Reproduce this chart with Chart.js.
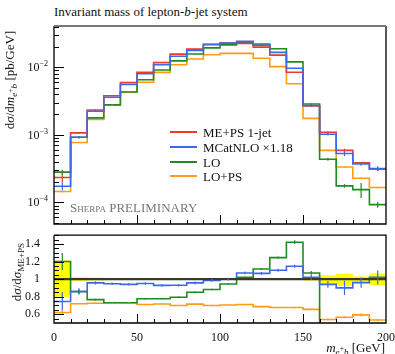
<!DOCTYPE html>
<html>
<head>
<meta charset="utf-8">
<script src="https://cdn.jsdelivr.net/npm/chart.js@4.4.1/dist/chart.umd.min.js"></script>
<style>
  body { margin: 0; background: #fff; }
  #wrap { position: relative; width: 395px; height: 354px; font-family: 'Liberation Serif', serif; color: #111; overflow: hidden; }
  canvas { position: absolute; left: 0; }
  .txt { position: absolute; white-space: nowrap; font-size: 13px; line-height: 1; }
  .rot { transform: translate(-50%, -50%) rotate(-90deg); }
  .legend-row { position: absolute; left: 170px; height: 14px; }
  .legend-row span.sw { position: absolute; left: 0; top: 6px; width: 27px; height: 2px; }
  .legend-row span.lb { position: absolute; left: 33px; top: 0; font-size: 13px; white-space: nowrap; }
  sub { font-size: 70%; vertical-align: -0.3em; }
  sub sup { font-size: 85%; vertical-align: 0.5em; }
</style>
</head>
<body>
<div id="wrap">
  <div class="txt" style="left:54px; top:5px;">Invariant mass of lepton-<i>b</i>-jet system</div>
  <canvas id="mainChart" width="395" height="226" style="top:0"></canvas>
  <canvas id="ratioChart" width="395" height="132" style="top:222px"></canvas>
  <div class="txt rot" style="left:11px; top:80px;">d<i>σ</i>/d<i>m</i><sub><i>e</i><sup>+</sup><i>b</i></sub> [pb/GeV]</div>
  <div class="txt rot" style="left:18px; top:272px;">d<i>σ</i>/d<i>σ</i><sub>ME+PS</sub></div>
  <div class="txt" style="right:10px; top:341px;"><i>m</i><sub><i>e</i><sup>+</sup><i>b</i></sub> [GeV]</div>
  <div class="txt" style="left:70px; top:201px; color:#777;"><span style="font-variant:small-caps">Sherpa</span> PRELIMINARY</div>
  <div id="legend"></div>
</div>
<script>
const binEdges = [0, 10, 20, 30, 40, 50, 60, 70, 80, 90, 100, 110, 120, 130, 140, 150, 160, 170, 180, 190, 200];

// d sigma / d m  [pb/GeV]
const mepsXsec    = [2.34e-4, 1.07e-3, 2.33e-3, 3.79e-3, 5.91e-3, 8.43e-3, 1.17e-2, 1.56e-2, 1.85e-2, 2.19e-2,
                     2.27e-2, 2.25e-2, 1.98e-2, 1.51e-2, 8.43e-3, 2.67e-3, 1.09e-3, 5.9e-4, 3.85e-4, 3.11e-4];
const mcatnloXsec = [1.74e-4, 9.2e-4, 2.23e-3, 3.59e-3, 5.56e-3, 8.0e-3, 1.086e-2, 1.45e-2, 1.77e-2, 2.16e-2,
                     2.27e-2, 2.41e-2, 2.11e-2, 1.66e-2, 9.66e-3, 2.72e-3, 1.02e-3, 5.3e-4, 3.7e-4, 3.17e-4];
const loXsec      = [2.81e-4, 9.2e-4, 1.78e-3, 2.77e-3, 4.31e-3, 6.54e-3, 9.08e-3, 1.24e-2, 1.57e-2, 1.93e-2,
                     2.14e-2, 2.30e-2, 2.21e-2, 1.88e-2, 1.20e-2, 2.86e-3, 4.35e-4, 1.76e-4, 1.55e-4, 9.3e-5];
const lopsXsec    = [1.45e-4, 7.7e-4, 1.69e-3, 2.77e-3, 4.31e-3, 5.99e-3, 8.39e-3, 1.09e-2, 1.32e-2, 1.53e-2,
                     1.60e-2, 1.60e-2, 1.36e-2, 1.02e-2, 5.7e-3, 1.75e-3, 5.9e-4, 3.34e-4, 2.28e-4, 1.66e-4];

// ratios to ME+PS
const mepsRatio    = [1, 1, 1, 1, 1, 1, 1, 1, 1, 1, 1, 1, 1, 1, 1, 1, 1, 1, 1, 1];
const mcatnloRatio = [0.745, 0.86, 0.957, 0.947, 0.94, 0.95, 0.928, 0.93, 0.957, 0.985,
                      1.0, 1.07, 1.065, 1.10, 1.146, 1.02, 0.94, 0.90, 0.96, 1.02];
const loRatio      = [1.20, 0.856, 0.766, 0.73, 0.73, 0.776, 0.776, 0.793, 0.85, 0.882,
                      0.944, 1.02, 1.115, 1.245, 1.42, 1.07, 0.40, 0.30, 0.40, 0.30];
const lopsRatio    = [0.62, 0.72, 0.725, 0.73, 0.73, 0.71, 0.717, 0.70, 0.715, 0.70,
                      0.705, 0.71, 0.687, 0.676, 0.676, 0.655, 0.54, 0.566, 0.592, 0.535];
const mepsBandLow  = [0.80, 0.98, 0.985, 0.99, 0.99, 0.99, 0.99, 0.99, 0.99, 0.99,
                      0.99, 0.99, 0.99, 0.99, 0.99, 0.985, 0.94, 0.925, 0.96, 0.93];
const mepsBandHigh = [1.21, 1.02, 1.015, 1.01, 1.01, 1.01, 1.01, 1.01, 1.01, 1.01,
                      1.01, 1.01, 1.01, 1.01, 1.01, 1.015, 1.045, 1.06, 1.03, 1.065];

// relative statistical errors
const mepsErr    = [0.15, 0.03, 0.02, 0.01, 0.01, 0.01, 0.01, 0.01, 0.01, 0.01, 0.01, 0.01, 0.01, 0.01, 0.01, 0.02, 0.04, 0.06, 0.03, 0.06];
const mcatnloErr = [0.14, 0.04, 0.02, 0.015, 0.015, 0.015, 0.015, 0.015, 0.015, 0.015, 0.015, 0.015, 0.015, 0.015, 0.015, 0.03, 0.04, 0.09, 0.06, 0.08];
const loErr      = [0.08, 0.03, 0.015, 0.01, 0.01, 0.01, 0.01, 0.01, 0.01, 0.01, 0.01, 0.01, 0.01, 0.01, 0.015, 0.02, 0.05, 0.06, 0.25, 0.1];
const lopsErr    = [0.03, 0.01, 0.01, 0.01, 0.01, 0.01, 0.01, 0.01, 0.01, 0.01, 0.01, 0.01, 0.01, 0.01, 0.01, 0.01, 0.02, 0.02, 0.03, 0.03];

const seriesNames = ['ME+PS 1-jet', 'MCatNLO \u00d71.18', 'LO', 'LO+PS'];
const seriesColors = ['#ee3a2a', '#3c68f0', '#1f8c1f', '#ff9c10'];
const decadeTicks = [1e-4, 1e-3, 1e-2];
const ratioTicks = [0.6, 0.8, 1, 1.2, 1.4];

const serif = "'Liberation Serif', serif";

function steps(vals) {
  const pts = vals.map((v, i) => ({ x: binEdges[i], y: v }));
  pts.push({ x: binEdges[binEdges.length - 1], y: vals[vals.length - 1] });
  return pts;
}

function lineSet(label, vals, color, errs) {
  return {
    label,
    data: steps(vals),
    errs,
    vals,
    borderColor: color,
    backgroundColor: color,
    borderWidth: 1.6,
    stepped: true,
    pointRadius: 0,
    fill: false
  };
}

// small vertical error bars at bin centres
const errorBars = {
  id: 'errorBars',
  afterDatasetsDraw(chart) {
    const { ctx, chartArea: a, scales: { x, y } } = chart;
    ctx.save();
    ctx.beginPath();
    ctx.rect(a.left, a.top, a.right - a.left, a.bottom - a.top);
    ctx.clip();
    chart.data.datasets.forEach(ds => {
      if (!ds.errs) return;
      ctx.strokeStyle = ds.borderColor;
      ctx.lineWidth = 1.2;
      ds.vals.forEach((v, i) => {
        const px = x.getPixelForValue((binEdges[i] + binEdges[i + 1]) / 2);
        const e = v * ds.errs[i];
        ctx.beginPath();
        ctx.moveTo(px, y.getPixelForValue(v - e));
        ctx.lineTo(px, y.getPixelForValue(v + e));
        ctx.stroke();
      });
    });
    ctx.restore();
  }
};

// frame + inward ticks like the original plot
const hepFrame = {
  id: 'hepFrame',
  afterDraw(chart, args, opts) {
    const { ctx, chartArea: a, scales: { x, y } } = chart;
    ctx.save();
    ctx.strokeStyle = '#000';
    ctx.lineWidth = 1;
    const hTick = (v, len) => {
      const py = Math.round(y.getPixelForValue(v)) + 0.5;
      if (py < a.top || py > a.bottom) return;
      ctx.beginPath(); ctx.moveTo(a.left, py); ctx.lineTo(a.left + len, py); ctx.stroke();
    };
    const vTick = (v, len) => {
      const px = Math.round(x.getPixelForValue(v)) + 0.5;
      ctx.beginPath(); ctx.moveTo(px, a.bottom); ctx.lineTo(px, a.bottom - len); ctx.stroke();
    };
    if (opts.log) {
      for (let d = -5; d <= -1; d++) {
        for (let m = 1; m <= 9; m++) hTick(m * Math.pow(10, d), m === 1 ? 10 : 5);
      }
    } else {
      for (let k = 10; k <= 30; k++) {
        const v = k * 0.05;
        hTick(v, k % 4 === 0 ? 10 : 5);
      }
    }
    for (let v = 10; v < 200; v += 10) vTick(v, v % 50 === 0 ? 9 : 4);

    // frame
    ctx.lineWidth = 1.3;
    ctx.beginPath();
    ctx.moveTo(a.left, a.top); ctx.lineTo(a.left, a.bottom); ctx.lineTo(a.right, a.bottom); ctx.lineTo(a.right, a.top);
    if (!opts.log) ctx.lineTo(a.left, a.top);
    ctx.stroke();
    if (opts.log) {
      ctx.strokeStyle = '#777';
      ctx.lineWidth = 2;
      ctx.beginPath(); ctx.moveTo(a.left, a.top); ctx.lineTo(a.right, a.top); ctx.stroke();

      // decade labels 10^n
      ctx.fillStyle = '#111';
      ctx.textBaseline = 'alphabetic';
      decadeTicks.forEach(v => {
        const py = y.getPixelForValue(v);
        const exp = '\u2212' + Math.round(-Math.log10(v));
        ctx.font = '12px ' + serif;
        const wBase = ctx.measureText('10').width;
        ctx.font = '8px ' + serif;
        const wExp = ctx.measureText(exp).width;
        const right = a.left - 6;
        ctx.fillText(exp, right - wExp, py - 1);
        ctx.font = '12px ' + serif;
        ctx.fillText('10', right - wExp - wBase, py + 4);
      });
    }
    ctx.restore();
  }
};

new Chart(document.getElementById('mainChart'), {
  type: 'line',
  data: {
    datasets: [
      Object.assign(lineSet(seriesNames[0], mepsXsec, seriesColors[0], mepsErr), { order: 2 }),
      Object.assign(lineSet(seriesNames[1], mcatnloXsec, seriesColors[1], mcatnloErr), { order: 1 }),
      Object.assign(lineSet(seriesNames[2], loXsec, seriesColors[2], loErr), { order: 3 }),
      Object.assign(lineSet(seriesNames[3], lopsXsec, seriesColors[3], lopsErr), { order: 4 })
    ]
  },
  options: {
    responsive: false,
    animation: false,
    layout: { padding: { top: 26, right: 9, bottom: 2, left: 0 } },
    plugins: { legend: { display: false }, tooltip: { enabled: false }, hepFrame: { log: true } },
    scales: {
      x: { type: 'linear', min: 0, max: 200, display: false },
      y: {
        type: 'logarithmic',
        min: 4.8e-5,
        max: 0.0407,
        ticks: { display: false },
        grid: { display: false },
        border: { display: false },
        afterFit: s => { s.width = 54; }
      }
    }
  },
  plugins: [errorBars, hepFrame]
});

const bandSets = [
  { label: 'band low', data: steps(mepsBandLow), stepped: true, borderWidth: 0, pointRadius: 0, fill: false, borderColor: 'rgba(0,0,0,0)' },
  { label: 'band high', data: steps(mepsBandHigh), stepped: true, borderWidth: 0, pointRadius: 0, fill: '-1', backgroundColor: '#ffff00', borderColor: 'rgba(0,0,0,0)' }
];

new Chart(document.getElementById('ratioChart'), {
  type: 'line',
  data: {
    datasets: [
      Object.assign(lineSet(seriesNames[0], mepsRatio, '#3a3a22'), { borderWidth: 2.2, order: 1 }),
      Object.assign(lineSet(seriesNames[1], mcatnloRatio, seriesColors[1], mcatnloErr), { order: 2 }),
      Object.assign(lineSet(seriesNames[2], loRatio, seriesColors[2], loErr), { order: 3 }),
      Object.assign(lineSet(seriesNames[3], lopsRatio, seriesColors[3], lopsErr), { order: 4 }),
      Object.assign(bandSets[0], { order: 10 }),
      Object.assign(bandSets[1], { order: 9 })
    ]
  },
  options: {
    responsive: false,
    animation: false,
    layout: { padding: { top: 2, right: 9, bottom: 0, left: 0 } },
    plugins: { legend: { display: false }, tooltip: { enabled: false }, filler: { propagate: false }, hepFrame: { log: false } },
    scales: {
      x: {
        type: 'linear', min: 0, max: 200,
        ticks: { stepSize: 50, color: '#111', font: { family: serif, size: 12 }, padding: 0 },
        grid: { display: false },
        border: { display: false },
        afterFit: s => { s.height = 31; }
      },
      y: {
        min: 0.5, max: 1.5,
        afterBuildTicks: s => { s.ticks = ratioTicks.map(v => ({ value: v })); },
        ticks: { color: '#111', font: { family: serif, size: 12 }, padding: 6, callback: v => String(v) },
        grid: { display: false },
        border: { display: false },
        afterFit: s => { s.width = 54; }
      }
    }
  },
  plugins: [errorBars, hepFrame]
});

// legend inside the upper panel
const legendTops = [125, 140, 155, 169];
const legend = document.getElementById('legend');
seriesNames.forEach((name, i) => {
  const row = document.createElement('div');
  row.className = 'legend-row';
  row.style.top = legendTops[i] + 'px';
  row.innerHTML = `<span class="sw" style="background:${seriesColors[i]}"></span><span class="lb">${name}</span>`;
  legend.appendChild(row);
});
</script>
</body>
</html>
